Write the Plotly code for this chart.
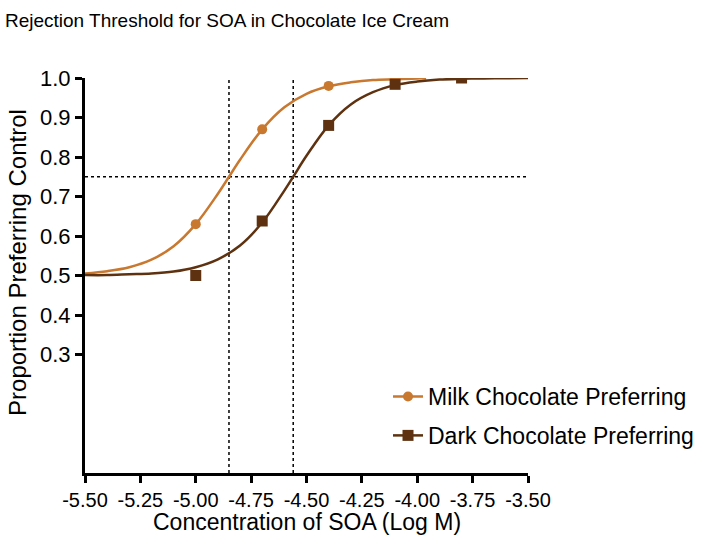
import plotly.graph_objects as go

# ---- data ----
milk_x = [-5.0, -4.7, -4.4, -4.1]
milk_y = [0.63, 0.87, 0.98, 1.0]
dark_x = [-5.0, -4.7, -4.4, -4.1, -3.8]
dark_y = [0.50, 0.638, 0.88, 0.984, 1.0]

# fitted curves
milk_curve_x = [-5.5, -5.4, -5.3, -5.2, -5.1, -5.0, -4.9, -4.85, -4.8, -4.7,
                -4.6, -4.5, -4.4, -4.3, -4.2, -4.1, -4.0, -3.96]
milk_curve_y = [0.505, 0.511, 0.521, 0.540, 0.574, 0.630, 0.707, 0.750, 0.793, 0.870,
                0.926, 0.960, 0.979, 0.989, 0.995, 0.997, 0.999, 0.999]
dark_curve_x = [-5.5, -5.4, -5.3, -5.2, -5.1, -5.0, -4.9, -4.8, -4.7, -4.6, -4.56,
                -4.5, -4.4, -4.3, -4.2, -4.1, -4.0, -3.9, -3.8, -3.7, -3.6, -3.5]
dark_curve_y = [0.501, 0.501, 0.503, 0.505, 0.510, 0.521, 0.541, 0.576, 0.634, 0.715, 0.750,
                0.803, 0.880, 0.933, 0.964, 0.982, 0.991, 0.996, 0.998, 0.999, 0.9995, 1.0]

threshold_level = 0.75
milk_threshold = -4.85
dark_threshold = -4.56

x_ticks = [-5.50, -5.25, -5.00, -4.75, -4.50, -4.25, -4.00, -3.75, -3.50]
x_tick_labels = ["-5.50", "-5.25", "-5.00", "-4.75", "-4.50", "-4.25", "-4.00", "-3.75", "-3.50"]
y_ticks = [0.3, 0.4, 0.5, 0.6, 0.7, 0.8, 0.9, 1.0]
y_tick_labels = ["0.3", "0.4", "0.5", "0.6", "0.7", "0.8", "0.9", "1.0"]

milk_color = "#C8782F"
dark_color = "#5E3210"
font_family = "Liberation Sans, Arial, sans-serif"

fig = go.Figure()

# curves
fig.add_trace(go.Scatter(x=milk_curve_x, y=milk_curve_y, mode="lines", line_shape="spline",
                         line=dict(color=milk_color, width=2.5), showlegend=False, hoverinfo="skip"))
fig.add_trace(go.Scatter(x=dark_curve_x, y=dark_curve_y, mode="lines", line_shape="spline",
                         line=dict(color=dark_color, width=2.5), showlegend=False, hoverinfo="skip"))
# points
fig.add_trace(go.Scatter(x=milk_x, y=milk_y, mode="markers",
                         marker=dict(color=milk_color, size=10, symbol="circle"), showlegend=False))
fig.add_trace(go.Scatter(x=dark_x, y=dark_y, mode="markers",
                         marker=dict(color=dark_color, size=11, symbol="square"), showlegend=False))
# legend entries
fig.add_trace(go.Scatter(x=[None], y=[None], mode="lines+markers", name="Milk Chocolate Preferring",
                         line=dict(color=milk_color, width=2.5),
                         marker=dict(color=milk_color, size=10, symbol="circle"), legendgroup="a"))
fig.add_trace(go.Scatter(x=[None], y=[None], mode="lines+markers", name="Dark Chocolate Preferring",
                         line=dict(color=dark_color, width=2.5),
                         marker=dict(color=dark_color, size=11, symbol="square"), legendgroup="b"))

# threshold dotted lines
dot = dict(color="black", width=1.5, dash="dot")
fig.add_shape(type="line", x0=x_ticks[0], x1=x_ticks[-1], y0=threshold_level, y1=threshold_level,
              xref="x", yref="y", line=dot, layer="below")
for xv in (milk_threshold, dark_threshold):
    fig.add_shape(type="line", x0=xv, x1=xv, y0=0, y1=1.008, xref="x", yref="y", line=dot, layer="below")

# axis titles as annotations for precise placement
fig.add_annotation(text="Proportion Preferring Control", xref="paper", yref="paper",
                   x=-0.151, y=0.532, textangle=-90, showarrow=False,
                   xanchor="center", yanchor="middle", font=dict(size=24, family=font_family))
fig.add_annotation(text="Concentration of SOA (Log M)", xref="paper", yref="paper",
                   x=0.5, y=-0.124, showarrow=False,
                   xanchor="center", yanchor="middle", font=dict(size=23, family=font_family))

fig.update_layout(
    width=704, height=543,
    margin=dict(l=85, r=176, t=78, b=70, autoexpand=False),
    paper_bgcolor="white", plot_bgcolor="white",
    font=dict(family=font_family, size=23, color="black"),
    title=dict(text="Rejection Threshold for SOA in Chocolate Ice Cream",
               x=0.007, xanchor="left", xref="container", y=0.963, yanchor="middle",
               yref="container",
               font=dict(size=19, family=font_family, color="black")),
    legend=dict(x=0.684, y=0.248, xanchor="left", yanchor="top", tracegroupgap=6,
                font=dict(size=23, family=font_family), bgcolor="rgba(0,0,0,0)"),
    showlegend=True,
)

fig.update_xaxes(range=[-5.5, -3.5], tickvals=x_ticks, ticktext=x_tick_labels, automargin=False,
                 showgrid=False, zeroline=False, showline=True, linecolor="black", linewidth=3,
                 ticks="outside", ticklen=7, tickwidth=3, tickcolor="black",
                 tickfont=dict(size=20))
fig.update_yaxes(range=[0, 1.0], tickvals=y_ticks, ticktext=y_tick_labels, automargin=False,
                 showgrid=False, zeroline=False, showline=True, linecolor="black", linewidth=3,
                 ticks="outside", ticklen=7, tickwidth=3, tickcolor="black",
                 tickfont=dict(size=22))

fig.write_html("out.html", config={"displayModeBar": False},
               post_script="document.body.style.margin='0';document.body.style.padding='0';")
